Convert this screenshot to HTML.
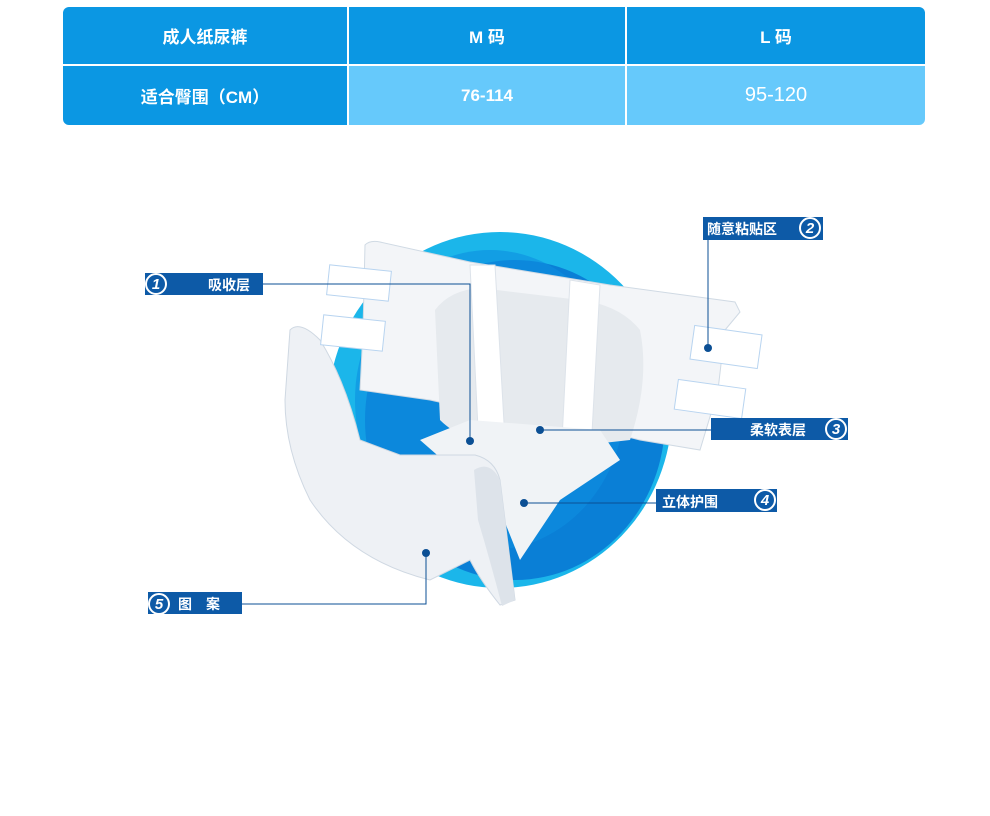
<!DOCTYPE html>
<html><head><meta charset="utf-8"><style>
body{margin:0;width:990px;height:816px;background:#fff;overflow:hidden;font-family:"Liberation Sans","Noto Sans CJK SC",sans-serif}
.t{position:absolute;left:63px;top:7px;width:862px;height:118px;border-radius:6px;overflow:hidden}
.c{position:absolute;display:flex;align-items:center;justify-content:center;color:#fff;font-weight:bold;font-size:17px}
</style></head><body>
<div class="t">
<div class="c" style="left:0;top:0;width:284px;height:57px;background:#0b97e3">成人纸尿裤</div>
<div class="c" style="left:286px;top:0;width:276px;height:57px;background:#0b97e3">M 码</div>
<div class="c" style="left:564px;top:0;width:298px;height:57px;background:#0b97e3">L 码</div>
<div class="c" style="left:0;top:59px;width:284px;height:59px;background:#0b97e3">适合臀围（CM）</div>
<div class="c" style="left:286px;top:59px;width:276px;height:59px;background:#66c9fb">76-114</div>
<div class="c" style="left:564px;top:59px;width:298px;height:59px;background:#66c9fb;font-weight:normal;font-size:20px">95-120</div>
</div>
<svg width="990" height="816" style="position:absolute;left:0;top:0">
<ellipse cx="500" cy="410" rx="172" ry="178" fill="#1bb6ea"/>
<ellipse cx="515" cy="420" rx="150" ry="160" fill="#0a7fd6"/>
<ellipse cx="490" cy="400" rx="135" ry="150" fill="#0e8ee0" opacity=".6"/>
<path d="M365 245 Q370 240 380 242 L470 262 L610 285 L735 302 L740 312 L725 330 L718 390 L700 450 L640 440 L600 430 L520 420 L430 400 L360 390 L363 330 Z" fill="#f3f5f8" stroke="#d0dae4"/>
<path d="M435 310 Q450 290 480 288 L580 300 Q620 305 640 330 Q650 380 630 440 L540 450 Q470 450 440 420 Z" fill="#e6eaee"/>
<path d="M470 265 L495 265 L505 440 L480 470 Z" fill="#fff" stroke="#dde3ea"/>
<path d="M570 280 L600 285 L590 470 L560 480 Z" fill="#fff" stroke="#dde3ea"/>
<path d="M420 440 L470 420 L600 430 L620 460 L560 500 L520 560 L500 510 Z" fill="#f0f3f6"/>
<path d="M290 330 Q300 320 320 340 Q345 380 360 440 L400 455 L475 455 Q495 460 500 480 L515 600 L500 605 Q480 580 470 560 L430 580 Q350 560 310 500 Q285 450 285 400 Z" fill="#eef1f5" stroke="#cfd8e2"/>
<path d="M474 470 Q490 460 500 480 L515 600 L502 606 Q490 560 478 520 Z" fill="#dde3ea"/>
<rect x="328" y="268" width="62" height="30" fill="#fff" stroke="#b8d4f0" transform="rotate(6 359 283)"/>
<rect x="322" y="318" width="62" height="30" fill="#fff" stroke="#b8d4f0" transform="rotate(6 353 333)"/>
<rect x="692" y="330" width="68" height="34" fill="#fff" stroke="#b8d4f0" transform="rotate(8 726 347)"/>
<rect x="676" y="384" width="68" height="30" fill="#fff" stroke="#b8d4f0" transform="rotate(8 710 399)"/>
<g stroke="#0b4f94" stroke-width="1" fill="none">
<polyline points="263,284 470,284 470,440"/>
<polyline points="708,240 708,348"/>
<polyline points="540,430 711,430"/>
<polyline points="524,503 656,503"/>
<polyline points="242,604 426,604 426,553"/>
</g>
<g fill="#0b4f94"><circle cx="470" cy="441" r="4"/><circle cx="708" cy="348" r="4"/><circle cx="540" cy="430" r="4"/><circle cx="524" cy="503" r="4"/><circle cx="426" cy="553" r="4"/></g>
<g fill="#0d5aa7">
<rect x="145" y="273" width="118" height="22"/><rect x="703" y="217" width="120" height="23"/>
<rect x="711" y="418" width="137" height="22"/><rect x="656" y="489" width="121" height="23"/>
<rect x="148" y="592" width="94" height="22"/></g>
<g fill="#fff" font-size="14" font-weight="bold" font-family="Liberation Sans,Noto Sans CJK SC,sans-serif">
<text x="208" y="290">吸收层</text><text x="707" y="234">随意粘贴区</text>
<text x="750" y="435">柔软表层</text><text x="662" y="507">立体护围</text>
<text x="178" y="609">图　案</text></g>
<g fill="#0d5aa7" stroke="#fff" stroke-width="2">
<circle cx="156" cy="284" r="10"/><circle cx="810" cy="228" r="10"/><circle cx="836" cy="429" r="10"/><circle cx="765" cy="500" r="10"/><circle cx="159" cy="604" r="10"/></g>
<g fill="#fff" font-size="15" font-weight="bold" font-style="italic" text-anchor="middle" font-family="Liberation Sans,sans-serif">
<text x="156" y="289">1</text><text x="810" y="233">2</text><text x="836" y="434">3</text><text x="765" y="505">4</text><text x="159" y="609">5</text></g>
</svg>
</body></html>
